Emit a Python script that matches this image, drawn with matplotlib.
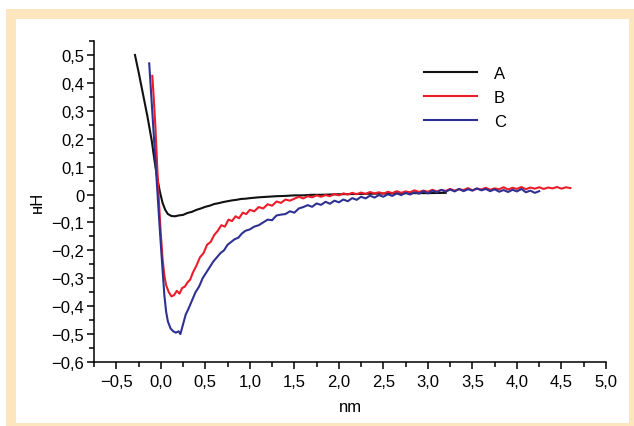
import numpy as np
import matplotlib
matplotlib.use("Agg")
import matplotlib.pyplot as plt
from matplotlib.patches import Rectangle
from matplotlib.ticker import MultipleLocator, FuncFormatter

# curve A (black)
a_x = [-0.29, -0.25, -0.20, -0.15, -0.10, -0.07, -0.04, -0.01, 0.02, 0.05, 0.08, 0.12,
       0.16, 0.20, 0.25, 0.30, 0.35, 0.40, 0.45, 0.50, 0.55, 0.60, 0.65, 0.70, 0.75,
       0.80, 0.85, 0.90, 0.95, 1.00, 1.10, 1.20, 1.30, 1.40, 1.50, 1.60, 1.70, 1.80,
       1.90, 2.00, 2.20, 2.40, 2.60, 2.80, 3.00, 3.20]
a_y = [0.50, 0.44, 0.36, 0.28, 0.19, 0.12, 0.06, 0.01, -0.03, -0.055, -0.07, -0.077,
       -0.078, -0.075, -0.073, -0.066, -0.062, -0.055, -0.050, -0.044, -0.040, -0.034,
       -0.031, -0.027, -0.024, -0.021, -0.019, -0.016, -0.015, -0.013, -0.010, -0.008,
       -0.006, -0.005, -0.003, -0.003, -0.001, -0.001, 0.000, 0.001, 0.002, 0.003,
       0.004, 0.005, 0.005, 0.006]

# curve B (red)
b_x = [-0.095, -0.08, -0.06, -0.04, -0.02, 0.00, 0.02, 0.04, 0.06, 0.09, 0.12, 0.15,
       0.18, 0.21, 0.24, 0.27, 0.30, 0.33, 0.36, 0.40, 0.44, 0.48, 0.52, 0.56, 0.60,
       0.64, 0.68, 0.72, 0.76, 0.80, 0.84, 0.88, 0.92, 0.96, 1.00, 1.05, 1.10, 1.15,
       1.20, 1.25, 1.30, 1.35, 1.40, 1.45,
       1.50, 1.55, 1.60, 1.65, 1.70, 1.75, 1.80, 1.85, 1.90, 1.95, 2.00, 2.05, 2.10,
       2.15, 2.20, 2.25, 2.30, 2.35, 2.40, 2.45, 2.50, 2.55, 2.60, 2.65, 2.70, 2.75,
       2.80, 2.85, 2.90, 2.95, 3.00, 3.05, 3.10, 3.15, 3.20, 3.25, 3.30, 3.35, 3.40,
       3.45, 3.50, 3.55, 3.60, 3.65, 3.70, 3.75, 3.80, 3.85, 3.90, 3.95, 4.00, 4.05,
       4.10, 4.15, 4.20, 4.25, 4.30, 4.35, 4.40, 4.45, 4.50, 4.55, 4.60]
b_y = [0.425, 0.35, 0.24, 0.10, -0.03, -0.14, -0.23, -0.29, -0.325, -0.35, -0.365, -0.36,
       -0.345, -0.355, -0.335, -0.33, -0.315, -0.305, -0.28, -0.255, -0.225, -0.21,
       -0.18, -0.17, -0.145, -0.13, -0.11, -0.115, -0.09, -0.095, -0.078, -0.085,
       -0.065, -0.07, -0.055, -0.06, -0.045, -0.05, -0.035, -0.04, -0.025, -0.03,
       -0.018, -0.022,
       -0.015, -0.008, -0.014, -0.006, -0.010, -0.003, -0.008, -0.002, -0.006, 0.002,
       -0.003, 0.004, 0.000, 0.006, 0.001, 0.007, 0.002, 0.009, 0.004, 0.008, 0.003,
       0.010, 0.005, 0.012, 0.006, 0.011, 0.008, 0.015, 0.009, 0.014, 0.010, 0.017,
       0.011, 0.016, 0.013, 0.020, 0.014, 0.019, 0.016, 0.023, 0.015, 0.021, 0.018,
       0.024, 0.017, 0.022, 0.019, 0.026, 0.018, 0.024, 0.020, 0.027, 0.019, 0.025,
       0.021, 0.026, 0.020, 0.025, 0.022, 0.027, 0.021, 0.026, 0.023]

# curve C (blue)
c_x = [-0.13, -0.10, -0.07, -0.04, -0.01, 0.02, 0.04, 0.06, 0.08, 0.11, 0.14, 0.17,
       0.20, 0.22, 0.25, 0.28, 0.31, 0.35, 0.39, 0.43, 0.47, 0.51, 0.55, 0.59, 0.63,
       0.67, 0.71, 0.75, 0.79, 0.83, 0.87, 0.91, 0.95, 1.00, 1.05, 1.10, 1.15, 1.20,
       1.25, 1.30, 1.35, 1.40, 1.45, 1.50, 1.55,
       1.60, 1.65, 1.70, 1.75, 1.80, 1.85, 1.90, 1.95, 2.00, 2.05, 2.10, 2.15, 2.20,
       2.25, 2.30, 2.35, 2.40, 2.45, 2.50, 2.55, 2.60, 2.65, 2.70, 2.75, 2.80, 2.85,
       2.90, 2.95, 3.00, 3.05, 3.10, 3.15, 3.20, 3.25, 3.30, 3.35, 3.40, 3.45, 3.50,
       3.55, 3.60, 3.65, 3.70, 3.75, 3.80, 3.85, 3.90, 3.95, 4.00, 4.05, 4.10, 4.15,
       4.20, 4.25]
c_y = [0.47, 0.32, 0.17, 0.02, -0.13, -0.27, -0.36, -0.42, -0.455, -0.48, -0.49, -0.495,
       -0.49, -0.50, -0.465, -0.43, -0.41, -0.38, -0.35, -0.33, -0.30, -0.28, -0.26,
       -0.24, -0.225, -0.21, -0.20, -0.18, -0.17, -0.16, -0.155, -0.14, -0.13, -0.125,
       -0.115, -0.11, -0.10, -0.09, -0.092, -0.075, -0.072, -0.07, -0.06, -0.065, -0.05,
       -0.045, -0.038, -0.044, -0.032, -0.037, -0.026, -0.033, -0.022, -0.028, -0.018,
       -0.024, -0.013, -0.019, -0.008, -0.014, -0.004, -0.011, -0.002, -0.008, 0.001,
       -0.005, 0.004, -0.002, 0.006, 0.000, 0.008, 0.003, 0.012, 0.004, 0.014, 0.008,
       0.017, 0.010, 0.018, 0.011, 0.020, 0.012, 0.019, 0.014, 0.022, 0.015, 0.020,
       0.012, 0.019, 0.010, 0.016, 0.009, 0.017, 0.011, 0.020, 0.008, 0.014, 0.006, 0.012]

labels = ["A", "B", "C"]
colors = ["#111111", "#ec1c2a", "#2e3192"]

plt.rcParams["font.family"] = ["Liberation Sans", "DejaVu Sans"]

fig = plt.figure(figsize=(6.34, 4.27), dpi=100)
W, H = 634.0, 427.0
# beige frame
fig.patches.append(Rectangle((6 / W, 0), 628 / W, 417 / H, transform=fig.transFigure,
                             facecolor="#fde6be", edgecolor="none", zorder=-2))
fig.patches.append(Rectangle((16 / W, 3 / H), 613 / W, 404 / H, transform=fig.transFigure,
                             facecolor="white", edgecolor="none", zorder=-1))

ax = fig.add_axes([94 / W, 64 / H, 512 / W, 321 / H])
ax.set_zorder(1)
ax.patch.set_alpha(0)

for xs, ys, lab, col in zip([a_x, b_x, c_x], [a_y, b_y, c_y], labels, colors):
    ax.plot(xs, ys, color=col, lw=1.5, label=lab)

ax.set_xlim(-0.75, 5.0)
ax.set_ylim(-0.6, 0.55)
ax.spines["top"].set_visible(False)
ax.spines["right"].set_visible(False)
ax.spines["left"].set_linewidth(1.1)
ax.spines["bottom"].set_linewidth(1.1)

ax.set_xticks([-0.5, 0, 0.5, 1.0, 1.5, 2.0, 2.5, 3.0, 3.5, 4.0, 4.5, 5.0])
ax.set_yticks([-0.6, -0.5, -0.4, -0.3, -0.2, -0.1, 0, 0.1, 0.2, 0.3, 0.4, 0.5])
ax.xaxis.set_minor_locator(MultipleLocator(0.25))
ax.yaxis.set_minor_locator(MultipleLocator(0.05))


def fmt_x(v, pos):
    s = "%.1f" % v
    return s.replace(".", ",").replace("-", "\u2212")


def fmt_y(v, pos):
    if abs(v) < 1e-9:
        return "0"
    s = "%.1f" % v
    return s.replace(".", ",").replace("-", "\u2212")


ax.xaxis.set_major_formatter(FuncFormatter(fmt_x))
ax.yaxis.set_major_formatter(FuncFormatter(fmt_y))
ax.tick_params(which="major", direction="out", length=5, width=1.1, labelsize=12, pad=4)
ax.tick_params(which="minor", direction="out", length=3.5, width=1.1)
ax.tick_params(axis="y", pad=2)

ax.set_xlabel("nm", fontsize=12, labelpad=7)
ax.set_ylabel("нН", fontsize=12, labelpad=5)

ax.legend(loc="upper left", bbox_to_anchor=(0.615, 0.97), frameon=False,
          fontsize=12, handlelength=3.2, handletextpad=1.0, labelspacing=0.55)

fig.savefig("out.png", dpi=100)
